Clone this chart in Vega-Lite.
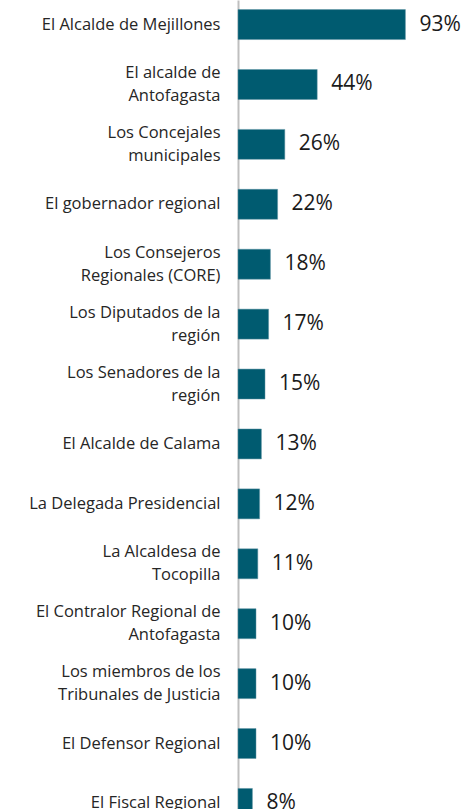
{
  "$schema": "https://vega.github.io/schema/vega-lite/v6.json",
  "width": 180,
  "height": 828,
  "autosize": "none",
  "padding": {"left": 238, "top": 0, "right": 45, "bottom": 0},
  "background": "white",
  "config": {"view": {"stroke": null}},
  "data": {
    "values": [
      {"cargo": "El Alcalde de Mejillones", "valor": 0.93},
      {"cargo": "El alcalde de|Antofagasta", "valor": 0.44},
      {"cargo": "Los Concejales|municipales", "valor": 0.26},
      {"cargo": "El gobernador regional", "valor": 0.22},
      {"cargo": "Los Consejeros|Regionales (CORE)", "valor": 0.18},
      {"cargo": "Los Diputados de la|región", "valor": 0.17},
      {"cargo": "Los Senadores de la|región", "valor": 0.15},
      {"cargo": "El Alcalde de Calama", "valor": 0.13},
      {"cargo": "La Delegada Presidencial", "valor": 0.12},
      {"cargo": "La Alcaldesa de|Tocopilla", "valor": 0.11},
      {"cargo": "El Contralor Regional de|Antofagasta", "valor": 0.10},
      {"cargo": "Los miembros de los|Tribunales de Justicia", "valor": 0.10},
      {"cargo": "El Defensor Regional", "valor": 0.10},
      {"cargo": "El Fiscal Regional", "valor": 0.08}
    ]
  },
  "encoding": {
    "y": {
      "field": "cargo",
      "type": "nominal",
      "sort": null,
      "scale": {"paddingInner": 0.5, "paddingOuter": 0.16},
      "axis": {
        "title": null,
        "ticks": false,
        "domain": true,
        "domainColor": "#bfbfbf",
        "domainWidth": 2,
        "labelExpr": "split(datum.label, '|')",
        "labelFont": "Open Sans",
        "labelFontSize": 16.5,
        "labelColor": "#262626",
        "labelPadding": 18,
        "labelLineHeight": 23,
        "labelLimit": 300,
        "labelOffset": {"condition": {"test": "indexof(datum.value, '|') >= 0", "value": -11.5}, "value": 0}
      }
    },
    "x": {
      "field": "valor",
      "type": "quantitative",
      "scale": {"domain": [0, 1]},
      "axis": null
    }
  },
  "layer": [
    {"mark": {"type": "bar", "color": "#005b70", "stroke": "#5f93a3", "strokeWidth": 0.5}},
    {
      "mark": {"type": "text", "align": "left", "baseline": "middle", "dx": 14, "font": "Open Sans", "fontSize": 21, "color": "#1a1a1a"},
      "encoding": {"text": {"field": "valor", "type": "quantitative", "format": ".0%"}}
    }
  ]
}
